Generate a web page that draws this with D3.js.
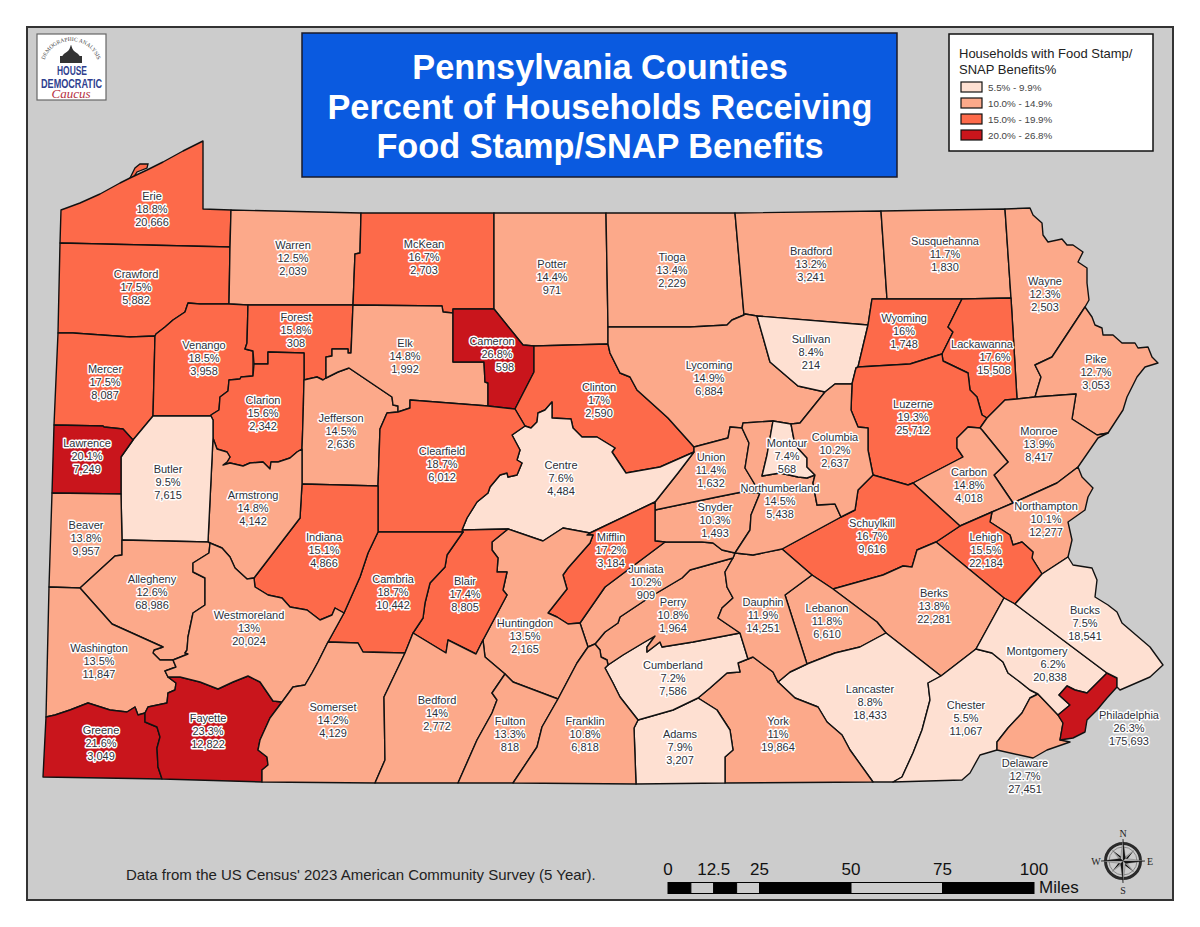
<!DOCTYPE html>
<html>
<head>
<meta charset="utf-8">
<title>Pennsylvania Counties SNAP</title>
<script src="https://cdn.jsdelivr.net/npm/d3@7"></script>
<style>
  body { margin: 0; background: #fff; }
  svg { display: block; }
  .county-label { font-family: "Liberation Sans", Arial, sans-serif; font-size: 11px; fill: #2e3038; text-anchor: middle; paint-order: stroke; stroke: #fff; stroke-width: 2.8px; stroke-linejoin: round; }
</style>
</head>
<body>
<div id="mapa"></div>
<script>
const countyNames = ["Erie","Crawford","Warren","McKean","Potter","Tioga","Bradford","Susquehanna","Wayne","Pike","Mercer","Venango","Forest","Clarion","Jefferson","Elk","Cameron","Clinton","Lycoming","Sullivan","Wyoming","Lackawanna","Luzerne","Monroe","Carbon","Northampton","Lehigh","Schuylkill","Berks","Lebanon","Lancaster","Chester","Delaware","Montgomery","Philadelphia","Bucks","York","Adams","Cumberland","Perry","Dauphin","Juniata","Snyder","Union","Northumberland","Montour","Columbia","Centre","Mifflin","Huntingdon","Blair","Clearfield","Cambria","Indiana","Armstrong","Butler","Lawrence","Beaver","Allegheny","Washington","Greene","Fayette","Westmoreland","Somerset","Bedford","Fulton","Franklin"];

const pctSnap = [18.8,17.5,12.5,16.7,14.4,13.4,13.2,11.7,12.3,12.7,17.5,18.5,15.8,15.6,14.5,14.8,26.8,17,14.9,8.4,16,17.6,19.3,13.9,14.8,10.1,15.5,16.7,13.8,11.8,8.8,5.5,12.7,6.2,26.3,7.5,11,7.9,7.2,10.8,11.9,10.2,10.3,11.4,14.5,7.4,10.2,7.6,17.2,13.5,17.4,18.7,18.7,15.1,14.8,9.5,20.1,13.8,12.6,13.5,21.6,23.3,13,14.2,14,13.3,10.8];

const hhSnap = [20666,5882,2039,2703,971,2229,3241,1830,2503,3053,8087,3958,308,2342,2636,1992,598,2590,6884,214,1748,15508,25712,8417,4018,12277,22184,9616,22281,6610,18433,11067,27451,20838,175693,18541,19864,3207,7586,1964,14251,909,1493,1632,5438,568,2637,4484,3184,2165,8805,6012,10442,4866,4142,7615,7249,9957,68986,11847,3049,12822,20024,4129,2772,818,6818];

const legendLabels = ["5.5% - 9.9%","10.0% - 14.9%","15.0% - 19.9%","20.0% - 26.8%"];
const classBreaks = [10, 15, 20];
const classColors = ["#fee0d2","#fca98a","#fd6a4a","#c9151c"];

const titleLines = ["Pennsylvania Counties","Percent of Households Receiving","Food Stamp/SNAP Benefits"];
const scaleBreaks = [0, 6.25, 12.5, 18.75, 25, 50, 75, 100];
const scaleLabels = [0, 12.5, 25, 50, 75, 100];

// county outlines, in digitised map units
const countyRings = {
  Erie: [[61,210],[80,203],[100,194],[120,183],[130,178],[147,170],[163,162],[183,151],[203,141],[203,209],[231,210],[230,247],[60,243]],
  Crawford: [[60,243],[230,247],[229,304],[200,304],[188,303],[185,312],[173,320],[165,327],[156,334],[155,336],[130,337],[73,333],[58,333]],
  Warren: [[231,210],[361,213],[360,253],[355,254],[353,305],[248,305],[229,304],[230,247]],
  McKean: [[361,213],[494,213],[494,309],[453,309],[453,313],[443,312],[442,306],[353,305],[355,254],[360,253]],
  Potter: [[494,213],[606,213],[608,327],[608,344],[534,346],[523,345],[494,309]],
  Tioga: [[606,213],[735,213],[744,315],[732,320],[727,325],[690,327],[608,327]],
  Bradford: [[735,213],[881,211],[887,299],[872,299],[868,325],[757,316],[745,314],[744,315]],
  Susquehanna: [[881,211],[1005,209],[1011,298],[962,299],[887,299]],
  Wayne: [[1005,209],[1030,208],[1033,215],[1042,223],[1043,235],[1048,242],[1062,239],[1067,245],[1073,245],[1083,252],[1078,262],[1087,268],[1087,283],[1089,300],[1085,307],[1052,357],[1035,365],[1041,377],[1035,397],[1017,399],[1011,298]],
  Pike: [[1085,307],[1092,317],[1095,325],[1102,328],[1103,335],[1113,335],[1122,343],[1135,343],[1138,348],[1148,347],[1152,357],[1158,363],[1145,367],[1137,377],[1127,397],[1123,410],[1108,433],[1097,435],[1072,419],[1076,394],[1035,397],[1041,377],[1035,365],[1052,357]],
  Mercer: [[58,333],[73,333],[130,337],[155,336],[153,416],[133,440],[123,429],[104,427],[103,426],[54,425]],
  Venango: [[155,336],[156,334],[165,327],[173,320],[185,312],[188,303],[200,304],[229,304],[248,305],[247,343],[245,349],[253,351],[253,376],[241,377],[240,379],[229,380],[228,391],[220,397],[219,410],[211,415],[211,416],[153,416]],
  Forest: [[248,305],[353,305],[351,353],[348,353],[348,349],[332,349],[332,356],[326,357],[326,378],[323,380],[317,377],[308,379],[304,380],[304,353],[268,352],[268,364],[254,364],[253,351],[245,349],[247,343]],
  Clarion: [[253,376],[254,364],[268,364],[268,352],[304,353],[304,380],[303,420],[302,449],[297,452],[290,458],[278,462],[271,462],[270,469],[263,462],[250,463],[243,466],[230,463],[223,465],[227,462],[230,457],[227,452],[217,449],[213,438],[213,420],[211,416],[211,415],[219,410],[220,397],[228,391],[229,380],[240,379],[241,377]],
  Jefferson: [[304,380],[308,379],[317,377],[323,380],[326,378],[338,372],[349,368],[392,397],[393,405],[398,406],[398,412],[387,413],[380,429],[378,486],[302,484],[302,449],[303,420]],
  Elk: [[353,305],[442,306],[443,312],[453,313],[453,362],[484,362],[485,382],[488,383],[488,406],[410,400],[410,408],[398,412],[398,406],[393,405],[392,397],[349,368],[338,372],[326,378],[326,357],[332,356],[332,349],[348,349],[348,353],[351,353]],
  Cameron: [[453,309],[494,309],[523,345],[534,346],[534,372],[515,409],[488,406],[488,383],[485,382],[484,362],[453,362],[453,313]],
  Clinton: [[534,346],[608,344],[610,353],[620,373],[630,377],[637,390],[657,408],[668,418],[694,447],[694,452],[660,467],[626,473],[612,452],[615,448],[597,437],[582,437],[573,428],[571,419],[552,418],[552,402],[545,410],[538,413],[537,422],[531,428],[525,426],[515,409],[534,372]],
  Lycoming: [[608,327],[690,327],[727,325],[732,320],[744,315],[745,314],[757,316],[770,362],[798,386],[825,392],[800,423],[791,424],[773,421],[743,423],[742,428],[730,427],[728,438],[694,447],[668,418],[657,408],[637,390],[630,377],[620,373],[610,353],[608,344]],
  Sullivan: [[757,316],[868,325],[858,367],[856,368],[852,384],[835,384],[825,392],[798,386],[770,362]],
  Wyoming: [[872,299],[887,299],[962,299],[948,327],[953,332],[942,354],[910,364],[858,367],[868,325]],
  Lackawanna: [[962,299],[1011,298],[1017,399],[1005,400],[987,418],[982,415],[977,397],[970,390],[968,373],[943,361],[942,354],[953,332],[948,327]],
  Luzerne: [[858,367],[910,364],[942,354],[943,361],[968,373],[970,390],[977,397],[982,415],[987,418],[980,428],[968,427],[957,438],[957,448],[963,457],[913,483],[908,485],[873,475],[868,450],[868,428],[858,427],[851,410],[852,384],[856,368]],
  Monroe: [[1005,400],[1017,399],[1035,397],[1076,394],[1072,419],[1097,435],[1108,433],[1098,438],[1078,467],[1057,483],[1013,503],[994,475],[1008,462],[982,430],[980,428],[987,418]],
  Carbon: [[963,457],[957,448],[957,438],[968,427],[980,428],[982,430],[1008,462],[994,475],[1013,503],[992,512],[960,526],[913,483]],
  Northampton: [[1013,503],[1057,483],[1078,467],[1082,477],[1093,488],[1088,497],[1085,510],[1068,522],[1072,540],[1068,557],[1042,574],[1032,558],[1033,552],[1022,542],[1013,545],[1010,535],[990,522],[992,512]],
  Lehigh: [[960,526],[992,512],[990,522],[1010,535],[1013,545],[1022,542],[1033,552],[1032,558],[1042,574],[1015,604],[1004,598],[936,542]],
  Schuylkill: [[782,549],[841,517],[855,510],[858,490],[873,475],[908,485],[913,483],[960,526],[936,542],[917,550],[912,567],[903,566],[883,575],[833,589],[812,575]],
  Berks: [[833,589],[883,575],[903,566],[912,567],[917,550],[936,542],[1004,598],[976,649],[941,676],[886,633],[877,622]],
  Lebanon: [[812,575],[833,589],[877,622],[886,633],[860,647],[835,653],[807,664],[785,595]],
  Lancaster: [[886,633],[941,676],[928,683],[930,700],[922,730],[913,753],[902,777],[893,782],[873,782],[850,750],[842,735],[827,722],[818,707],[795,698],[778,682],[790,672],[807,664],[835,653],[860,647]],
  Chester: [[928,683],[941,676],[976,649],[992,653],[1003,662],[1008,673],[1020,682],[1030,690],[1038,694],[1030,698],[1022,713],[1008,728],[997,742],[997,750],[980,755],[970,773],[962,780],[893,782],[902,777],[913,753],[922,730],[930,700]],
  Delaware: [[1038,694],[1058,715],[1063,723],[1060,740],[1070,742],[1047,750],[1033,758],[997,750],[997,742],[1008,728],[1022,713],[1030,698]],
  Montgomery: [[1004,598],[1015,604],[1107,673],[1087,693],[1075,690],[1067,686],[1059,695],[1070,705],[1058,715],[1038,694],[1030,690],[1020,682],[1008,673],[1003,662],[992,653],[976,649]],
  Philadelphia: [[1107,673],[1117,678],[1117,687],[1107,698],[1097,710],[1087,720],[1085,732],[1073,738],[1060,740],[1063,723],[1058,715],[1070,705],[1059,695],[1067,686],[1075,690],[1087,693]],
  Bucks: [[1042,574],[1068,557],[1073,565],[1092,568],[1097,580],[1095,597],[1108,605],[1117,612],[1122,623],[1150,647],[1163,665],[1150,677],[1120,690],[1117,687],[1117,678],[1107,673],[1015,604]],
  York: [[698,698],[710,688],[727,673],[740,672],[738,663],[748,659],[753,657],[773,672],[778,682],[795,698],[818,707],[827,722],[842,735],[850,750],[873,782],[725,783],[725,757],[733,750],[730,730],[717,710]],
  Adams: [[634,728],[638,720],[673,710],[698,698],[717,710],[730,730],[733,750],[725,757],[725,783],[636,784]],
  Cumberland: [[638,720],[620,697],[613,683],[605,668],[608,665],[623,655],[643,643],[655,636],[647,647],[647,652],[660,642],[662,647],[693,642],[740,633],[748,659],[738,663],[740,672],[727,673],[710,688],[698,698],[673,710]],
  Perry: [[595,644],[605,632],[618,623],[620,617],[650,597],[682,578],[690,570],[733,558],[725,572],[727,587],[733,598],[722,608],[718,618],[740,633],[693,642],[662,647],[660,642],[647,652],[647,647],[655,636],[643,643],[623,655],[608,665],[607,660],[601,657],[600,650]],
  Dauphin: [[733,558],[735,553],[753,555],[782,549],[812,575],[785,595],[807,664],[790,672],[778,682],[773,672],[753,657],[748,659],[740,633],[718,618],[722,608],[733,598],[727,587],[725,572]],
  Juniata: [[580,623],[605,587],[665,542],[702,542],[713,543],[722,550],[735,553],[733,558],[690,570],[682,578],[650,597],[620,617],[618,623],[605,632],[595,644],[588,647]],
  Snyder: [[655,510],[717,497],[742,492],[760,493],[751,515],[750,530],[735,553],[722,550],[713,543],[702,542],[665,542],[655,541]],
  Union: [[694,447],[728,438],[730,427],[742,428],[749,443],[745,468],[760,493],[742,492],[717,497],[655,510],[655,502],[678,473],[694,452]],
  Northumberland: [[742,428],[743,423],[773,421],[767,455],[762,476],[780,473],[798,477],[807,478],[815,475],[813,483],[817,505],[835,504],[841,517],[782,549],[753,555],[735,553],[750,530],[751,515],[760,493],[745,468],[749,443]],
  Montour: [[773,421],[791,424],[795,445],[807,458],[807,467],[815,475],[807,478],[798,477],[780,473],[762,476],[767,455]],
  Columbia: [[791,424],[800,423],[825,392],[835,384],[852,384],[851,410],[858,427],[868,428],[868,450],[873,475],[858,490],[855,510],[841,517],[835,504],[817,505],[813,483],[815,475],[807,467],[807,458],[795,445]],
  Centre: [[525,426],[531,428],[537,422],[538,413],[545,410],[552,402],[552,418],[571,419],[573,428],[582,437],[597,437],[615,448],[612,452],[626,473],[660,467],[694,452],[678,473],[655,502],[590,533],[563,528],[543,541],[508,529],[462,530],[467,518],[477,502],[488,493],[490,487],[500,475],[507,473],[508,477],[517,475],[522,463],[517,460],[520,450],[512,435]],
  Mifflin: [[655,502],[655,510],[655,541],[665,542],[605,587],[580,623],[568,624],[557,617],[548,613],[567,589],[563,575],[568,568],[590,543],[593,535],[587,535],[590,533]],
  Huntingdon: [[508,529],[543,541],[563,528],[590,533],[587,535],[593,535],[590,543],[568,568],[563,575],[567,589],[548,613],[557,617],[568,624],[580,623],[588,647],[577,663],[558,699],[513,682],[505,674],[485,657],[483,640],[507,595],[503,590],[507,572],[497,572],[498,558],[492,550],[492,542]],
  Blair: [[463,532],[462,530],[508,529],[492,542],[492,550],[498,558],[497,572],[507,572],[503,590],[507,595],[483,640],[476,654],[448,640],[446,653],[413,633],[423,618],[425,603],[430,583],[445,567],[447,555]],
  Clearfield: [[410,400],[488,406],[515,409],[525,426],[512,435],[520,450],[517,460],[522,463],[517,475],[508,477],[507,473],[500,475],[490,487],[488,493],[477,502],[467,518],[462,530],[463,532],[378,532],[378,486],[380,429],[387,413],[398,412],[410,408]],
  Cambria: [[378,532],[463,532],[447,555],[445,567],[430,583],[425,603],[423,618],[413,633],[405,653],[363,652],[358,643],[328,642],[344,613],[360,577],[368,553]],
  Indiana: [[302,484],[378,486],[378,532],[368,553],[360,577],[344,613],[335,608],[332,615],[320,620],[307,610],[290,607],[282,598],[268,595],[255,587],[254,578],[300,518]],
  Armstrong: [[213,438],[217,449],[227,452],[230,457],[227,462],[223,465],[230,463],[243,466],[250,463],[263,462],[270,469],[271,462],[278,462],[290,458],[297,452],[302,449],[302,484],[300,518],[254,578],[247,579],[235,568],[230,557],[222,548],[210,543],[208,542]],
  Butler: [[153,416],[211,416],[213,420],[213,438],[208,542],[122,540],[121,494],[121,457],[133,440]],
  Lawrence: [[54,425],[103,426],[104,427],[123,429],[133,440],[121,457],[121,494],[52,493]],
  Beaver: [[52,493],[121,494],[122,540],[122,555],[115,556],[80,588],[49,587]],
  Allegheny: [[122,540],[208,542],[210,543],[209,553],[193,563],[193,572],[205,578],[205,605],[193,613],[188,637],[187,650],[185,653],[188,654],[173,660],[160,660],[153,653],[154,650],[163,647],[112,624],[80,588],[115,556],[122,555]],
  Washington: [[49,587],[80,588],[112,624],[163,647],[154,650],[153,653],[160,660],[173,660],[176,667],[165,671],[168,677],[176,683],[175,690],[168,693],[167,703],[148,707],[145,713],[138,715],[135,707],[127,712],[110,710],[88,703],[70,710],[55,715],[46,717]],
  Greene: [[46,717],[55,715],[70,710],[88,703],[110,710],[127,712],[135,707],[138,715],[145,713],[145,722],[157,727],[160,737],[157,748],[158,767],[162,779],[43,777]],
  Fayette: [[145,713],[148,707],[167,703],[168,693],[175,690],[176,683],[168,677],[180,677],[200,682],[218,689],[233,682],[248,676],[260,682],[273,701],[282,702],[270,718],[260,740],[258,750],[267,757],[268,765],[262,770],[262,782],[162,779],[158,767],[157,748],[160,737],[157,727],[145,722]],
  Westmoreland: [[210,543],[222,548],[230,557],[235,568],[247,579],[254,578],[255,587],[268,595],[282,598],[290,607],[307,610],[320,620],[332,615],[335,608],[344,613],[328,642],[318,662],[312,673],[305,685],[293,687],[282,702],[273,701],[260,682],[248,676],[233,682],[218,689],[200,682],[180,677],[168,677],[165,671],[176,667],[173,660],[188,654],[185,653],[187,650],[188,637],[193,613],[205,605],[205,578],[193,572],[193,563],[209,553]],
  Somerset: [[328,642],[358,643],[363,652],[405,653],[384,697],[385,760],[375,783],[262,782],[262,770],[268,765],[267,757],[258,750],[260,740],[270,718],[282,702],[293,687],[305,685],[312,673],[318,662]],
  Bedford: [[413,633],[446,653],[448,640],[476,654],[483,640],[485,657],[505,674],[492,693],[497,700],[492,713],[477,740],[458,783],[375,783],[385,760],[384,697],[405,653]],
  Fulton: [[505,674],[513,682],[558,699],[542,727],[537,747],[513,783],[458,783],[477,740],[492,713],[497,700],[492,693]],
  Franklin: [[588,647],[595,644],[600,650],[601,657],[607,660],[608,665],[605,668],[613,683],[620,697],[638,720],[634,728],[636,784],[513,783],[537,747],[542,727],[558,699],[577,663]]
};
const presqueIsle = [[130,178],[135,168],[140,164],[148,164],[147,168],[137,172],[133,178]];

// where each county's label sits, same map units, same order as countyNames
const labelAnchors = [[152,209],[136,287],[293,258],[424,257],[552,277],[672,270],[811,264],[945,254],[1045,294],[1096,372],[105,382],[204,358],[296,330],[263,413],[341,431],[405,356],[497,354],[599,400],[709,378],[811,352],[904,331],[990,357],[913,417],[1039,444],[969,485],[1046,519],[986,550],[872,536],[934,606],[827,621],[870,702],[966,718],[1025,776],[1048,664],[1129,728],[1085,623],[778,734],[680,747],[673,678],[673,615],[763,615],[646,582],[715,520],[711,470],[780,501],[787,456],[835,450],[561,478],[611,550],[525,636],[465,594],[442,464],[393,592],[324,550],[253,508],[168,482],[87,456],[86,538],[152,592],[99,661],[101,743],[208,731],[249,628],[333,720],[437,713],[510,734],[585,734]];
// a few labels in the original have their three lines knocked sideways
const labelLineShift = { Cameron: [-5, 0, 8], Lackawanna: [-8, 5, 4], Montgomery: [-11, 5, 2] };

const width = 1200;
const height = 927;

const svg = d3.select("#mapa").append("svg")
    .attr("width", width)
    .attr("height", height);

svg.append("rect")
    .attr("x", 27).attr("y", 27)
    .attr("width", 1146).attr("height", 873)
    .attr("fill", "#cccccc")
    .attr("stroke", "#333")
    .attr("stroke-width", 2);

// counties
const counties = {
    type: "FeatureCollection",
    features: countyNames.map((name, i) => ({
        type: "Feature",
        properties: { name: name, pct: pctSnap[i], hh: hhSnap[i], anchor: labelAnchors[i] },
        geometry: { type: "Polygon", coordinates: [countyRings[name].concat([countyRings[name][0]])] }
    }))
};

const projection = d3.geoIdentity().fitExtent([[43, 141], [1163, 784]], counties);
const path = d3.geoPath().projection(projection);
const color = d3.scaleThreshold().domain(classBreaks).range(classColors);

svg.append("path")
    .datum({ type: "Polygon", coordinates: [presqueIsle.concat([presqueIsle[0]])] })
    .attr("d", path)
    .attr("fill", color(18.8))
    .attr("stroke", "#111")
    .attr("stroke-width", 1.3);

svg.selectAll("path.county")
    .data(counties.features)
    .enter()
    .append("path")
    .attr("class", "county")
    .attr("d", path)
    .attr("fill", d => color(d.properties.pct))
    .attr("stroke", "#111")
    .attr("stroke-width", 1.4)
    .attr("stroke-linejoin", "round");

// labels
const labels = svg.selectAll("text.county-label")
    .data(counties.features)
    .enter()
    .append("text")
    .attr("class", "county-label");

labels.each(function(d) {
    const [x, y] = projection(d.properties.anchor);
    const shift = labelLineShift[d.properties.name] || [0, 0, 0];
    const lines = [d.properties.name, d.properties.pct + "%", d3.format(",")(d.properties.hh)];
    d3.select(this).selectAll("tspan")
        .data(lines)
        .enter()
        .append("tspan")
        .attr("x", (t, i) => x + shift[i])
        .attr("y", (t, i) => y + (i - 1) * 12.8 + 4)
        .text(t => t);
});

// title box
svg.append("rect")
    .attr("x", 302).attr("y", 33)
    .attr("width", 595).attr("height", 144)
    .attr("fill", "#0a5ae0")
    .attr("stroke", "#1a1a2a")
    .attr("stroke-width", 1.5);

svg.selectAll("text.titulo")
    .data(titleLines)
    .enter()
    .append("text")
    .attr("class", "titulo")
    .attr("x", 600)
    .attr("y", (d, i) => 79 + i * 39.5)
    .attr("text-anchor", "middle")
    .attr("font-family", "'Liberation Sans', Arial, sans-serif")
    .attr("font-weight", "bold")
    .attr("font-size", 34.3)
    .attr("fill", "#fff")
    .text(d => d);

// legend
const legend = svg.append("g");
legend.append("rect")
    .attr("x", 949).attr("y", 34)
    .attr("width", 204).attr("height", 117)
    .attr("fill", "#fff")
    .attr("stroke", "#111")
    .attr("stroke-width", 1.5);

legend.selectAll("text.leg-title")
    .data(["Households with Food Stamp/", "SNAP Benefits%"])
    .enter()
    .append("text")
    .attr("x", 959)
    .attr("y", (d, i) => 58 + i * 16)
    .attr("font-family", "'Liberation Sans', Arial, sans-serif")
    .attr("font-size", 13)
    .attr("fill", "#222")
    .text(d => d);

legend.selectAll("rect.swatch")
    .data(classColors)
    .enter()
    .append("rect")
    .attr("class", "swatch")
    .attr("x", 961)
    .attr("y", (d, i) => 82 + i * 16)
    .attr("width", 21)
    .attr("height", 10)
    .attr("fill", d => d)
    .attr("stroke", "#111")
    .attr("stroke-width", 1.2);

legend.selectAll("text.leg-item")
    .data(legendLabels)
    .enter()
    .append("text")
    .attr("class", "leg-item")
    .attr("x", 988)
    .attr("y", (d, i) => 90.5 + i * 16)
    .attr("font-family", "'Liberation Sans', Arial, sans-serif")
    .attr("font-size", 9.8)
    .attr("fill", "#444")
    .text(d => d);

// logo
const logo = svg.append("g");
logo.append("rect")
    .attr("x", 37).attr("y", 34)
    .attr("width", 69).attr("height", 66)
    .attr("fill", "#fff")
    .attr("stroke", "#666")
    .attr("stroke-width", 1.2);
logo.append("path")
    .attr("id", "logo-arc")
    .attr("fill", "none")
    .attr("d", d3.arc()({ innerRadius: 28, outerRadius: 28, startAngle: -Math.PI * 0.56, endAngle: Math.PI * 0.56 }))
    .attr("transform", "translate(71,69)");
logo.append("text")
    .attr("font-family", "'Liberation Serif', serif")
    .attr("font-size", 5.6)
    .attr("fill", "#444")
    .append("textPath")
    .attr("href", "#logo-arc")
    .attr("startOffset", "25%")
    .attr("text-anchor", "middle")
    .text("DEMOGRAPHIC ANALYSIS");
logo.append("path")
    .attr("d", d3.line().curve(d3.curveBasis)([[60, 63], [62, 55], [67, 52], [70, 49], [71, 43], [72, 49], [75, 52], [80, 55], [82, 63]]))
    .attr("fill", "#333");
logo.append("rect").attr("x", 60).attr("y", 56).attr("width", 22).attr("height", 7).attr("fill", "#333");

logo.selectAll("text.logo-word")
    .data([["HOUSE", 74.5, 57, 30], ["DEMOCRATIC", 87.5, 41, 61]])
    .enter()
    .append("text")
    .attr("x", d => d[2])
    .attr("y", d => d[1])
    .attr("textLength", d => d[3])
    .attr("lengthAdjust", "spacingAndGlyphs")
    .attr("font-family", "'Liberation Sans Narrow', 'Liberation Sans', sans-serif")
    .attr("font-weight", "bold")
    .attr("font-size", 12.5)
    .attr("fill", "#2f3f8f")
    .text(d => d[0]);
logo.append("text")
    .attr("x", 71).attr("y", 97.5)
    .attr("text-anchor", "middle")
    .attr("font-family", "'Liberation Serif', serif")
    .attr("font-style", "italic")
    .attr("font-size", 13)
    .attr("fill", "#b5303f")
    .text("Caucus");

// source note
svg.append("text")
    .attr("x", 126).attr("y", 880)
    .attr("font-family", "'Liberation Sans', Arial, sans-serif")
    .attr("font-size", 15)
    .attr("fill", "#222")
    .text("Data from the US Census' 2023 American Community Survey (5 Year).");

// scale bar
const miles = d3.scaleLinear().domain([0, 100]).range([668, 1034]);
svg.selectAll("rect.bar")
    .data(d3.pairs(scaleBreaks))
    .enter()
    .append("rect")
    .attr("class", "bar")
    .attr("x", d => miles(d[0]))
    .attr("y", 882.5)
    .attr("width", d => miles(d[1]) - miles(d[0]))
    .attr("height", 11)
    .attr("fill", (d, i) => i % 2 ? "#cccccc" : "#000")
    .attr("stroke", "#000")
    .attr("stroke-width", 1);

svg.selectAll("text.scale")
    .data(scaleLabels)
    .enter()
    .append("text")
    .attr("class", "scale")
    .attr("x", d => miles(d))
    .attr("y", 875)
    .attr("text-anchor", "middle")
    .attr("font-family", "'Liberation Sans', Arial, sans-serif")
    .attr("font-size", 17)
    .attr("fill", "#111")
    .text(d => d);

svg.append("text")
    .attr("x", 1039).attr("y", 893)
    .attr("font-family", "'Liberation Sans', Arial, sans-serif")
    .attr("font-size", 17)
    .attr("fill", "#111")
    .text("Miles");

// compass
const compass = svg.append("g").attr("transform", "translate(1123,861)");
compass.append("circle").attr("r", 17.5).attr("fill", "none").attr("stroke", "#2a2a2a").attr("stroke-width", 3);
compass.append("circle").attr("r", 14).attr("fill", "none").attr("stroke", "#777").attr("stroke-width", 0.8);

// each star point is a dark half and a light half
function starHalves(tipR, waist, count, off) {
    return d3.range(count).flatMap(i => {
        const a = off + i * 2 * Math.PI / count;
        const step = Math.PI / count;
        return [
            { pts: [[0, 0], [a, tipR], [a + step, waist]], dark: true },
            { pts: [[0, 0], [a, tipR], [a - step, waist]], dark: false }
        ];
    });
}
const radial = d3.lineRadial().curve(d3.curveLinearClosed);
compass.selectAll("path.diag")
    .data(starHalves(16, 3, 4, Math.PI / 4))
    .enter()
    .append("path")
    .attr("class", "diag")
    .attr("d", d => radial(d.pts))
    .attr("fill", d => d.dark ? "#111" : "#999");
compass.selectAll("path.main")
    .data(starHalves(22, 3.5, 4, 0))
    .enter()
    .append("path")
    .attr("class", "main")
    .attr("d", d => radial(d.pts))
    .attr("fill", d => d.dark ? "#111" : "#bbb")
    .attr("stroke", "#333")
    .attr("stroke-width", 0.3);

compass.selectAll("text")
    .data([["N", 0, -24], ["E", 27, 4], ["S", 0, 33], ["W", -27, 4]])
    .enter()
    .append("text")
    .attr("x", d => d[1])
    .attr("y", d => d[2])
    .attr("text-anchor", "middle")
    .attr("font-family", "'Liberation Serif', serif")
    .attr("font-size", 10)
    .attr("fill", "#222")
    .text(d => d[0]);
</script>
</body>
</html>
